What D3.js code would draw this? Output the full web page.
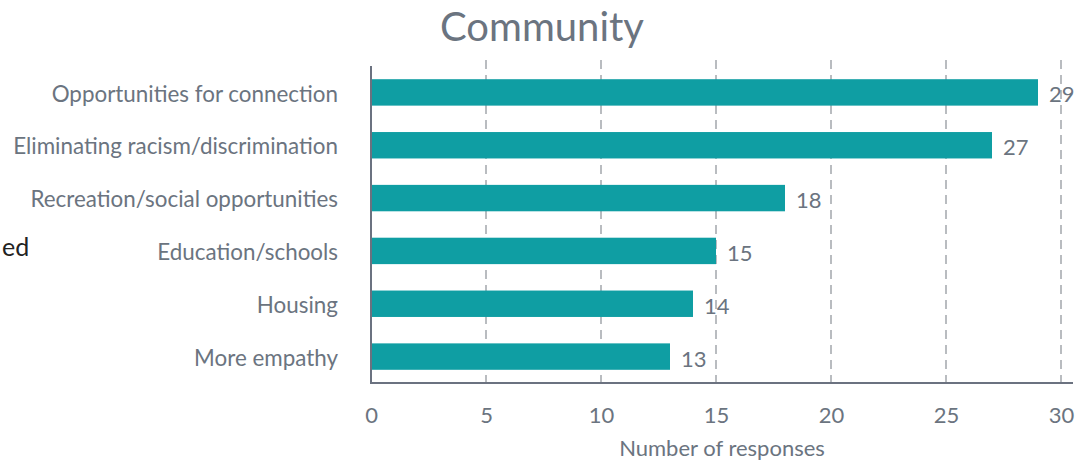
<!DOCTYPE html>
<html>
<head>
<meta charset="utf-8">
<script src="https://cdn.jsdelivr.net/npm/d3@7"></script>
<style>
  html, body { margin: 0; padding: 0; background: #ffffff; }
  svg { display: block; font-family: Lato, "Open Sans", sans-serif; }
</style>
</head>
<body>
<svg id="chart" width="1089" height="462"></svg>
<script>
// Responses by theme
const categories = [
  "Opportunities for connection",
  "Eliminating racism/discrimination",
  "Recreation/social opportunities",
  "Education/schools",
  "Housing",
  "More empathy"
];
const responses = [29, 27, 18, 15, 14, 13];
const xTicks = [0, 5, 10, 15, 20, 25, 30];

const svg = d3.select("#chart");
const textColor = "#6b7480";
const barColor = "#0f9ea3";
const fontSize = 22;

const margin = { left: 371, right: 1061, top: 66, bottom: 383 };

const x = d3.scaleLinear().domain([0, 30]).range([margin.left, margin.right]);
const y = d3.scaleBand().domain(categories).range([margin.top, margin.bottom])
  .paddingInner(0.5).paddingOuter(0.25);

// Title
svg.append("text")
  .attr("x", 542).attr("y", 41)
  .attr("text-anchor", "middle")
  .attr("fill", textColor)
  .attr("font-size", 40)
  .text("Community");

// Neighbouring page text at the left edge
svg.append("text")
  .attr("x", 2).attr("y", 256)
  .attr("text-anchor", "start")
  .attr("fill", "#222")
  .attr("font-size", 25)
  .text("ed");

// Dashed vertical gridlines
svg.append("g")
  .selectAll("line")
  .data(xTicks.filter(d => d > 0))
  .join("line")
  .attr("x1", d => x(d)).attr("x2", d => x(d))
  .attr("y1", 60).attr("y2", margin.bottom)
  .attr("stroke", "#b9bcc0")
  .attr("stroke-width", 2)
  .attr("stroke-dasharray", "9,6");

// Bars
svg.append("g")
  .selectAll("rect")
  .data(categories)
  .join("rect")
  .attr("x", x(0))
  .attr("y", d => y(d))
  .attr("width", (d, i) => x(responses[i]) - x(0))
  .attr("height", y.bandwidth())
  .attr("fill", barColor);

// Value labels
svg.append("g")
  .selectAll("text")
  .data(categories)
  .join("text")
  .attr("x", (d, i) => x(responses[i]) + 11)
  .attr("y", d => y(d) + y.bandwidth() / 2 + 2)
  .attr("dy", "0.36em")
  .attr("fill", textColor)
  .attr("font-size", fontSize)
  .text((d, i) => responses[i]);

// Y axis (category labels)
const yAxis = svg.append("g")
  .attr("transform", `translate(${margin.left},2)`)
  .call(d3.axisLeft(y).tickSize(0).tickPadding(33));
yAxis.select(".domain").remove();
yAxis.selectAll("text")
  .attr("fill", textColor)
  .attr("font-size", 22.4)
  .attr("font-family", "Lato, sans-serif");

svg.append("line")
  .attr("x1", margin.left).attr("x2", margin.left)
  .attr("y1", 66).attr("y2", margin.bottom + 1)
  .attr("stroke", "#6b7280")
  .attr("stroke-width", 2);

// X axis
const xAxis = svg.append("g")
  .attr("transform", `translate(0,${margin.bottom})`)
  .call(d3.axisBottom(x).tickValues(xTicks).tickSize(0).tickPadding(24));
xAxis.select(".domain").remove();
xAxis.selectAll("text")
  .attr("fill", textColor)
  .attr("font-size", fontSize)
  .attr("font-family", "Lato, sans-serif");

svg.append("line")
  .attr("x1", margin.left).attr("x2", 1073)
  .attr("y1", margin.bottom).attr("y2", margin.bottom)
  .attr("stroke", "#6b7280")
  .attr("stroke-width", 2);

// Axis title
svg.append("text")
  .attr("x", 722).attr("y", 456)
  .attr("text-anchor", "middle")
  .attr("fill", textColor)
  .attr("font-size", fontSize)
  .text("Number of responses");
</script>
</body>
</html>
